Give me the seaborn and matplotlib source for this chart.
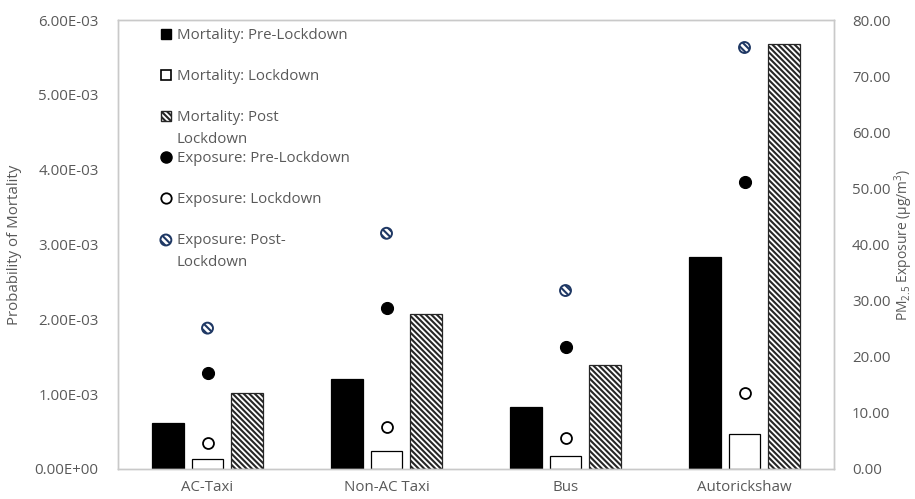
import numpy as np
import pandas as pd
import matplotlib
matplotlib.use("Agg")
import matplotlib.pyplot as plt
import seaborn as sns
from matplotlib.patches import Patch
from matplotlib.lines import Line2D
from matplotlib.ticker import FormatStrFormatter

# ---------------- data ----------------
categories = ["AC-Taxi", "Non-AC Taxi", "Bus", "Autorickshaw"]
mort_pre = [0.62e-3, 1.20e-3, 0.83e-3, 2.83e-3]
mort_lock = [0.14e-3, 0.24e-3, 0.17e-3, 0.47e-3]
mort_post = [1.01e-3, 2.07e-3, 1.39e-3, 5.68e-3]
exp_pre = [17.1, 28.6, 21.7, 51.2]
exp_lock = [4.6, 7.5, 5.6, 13.5]
exp_post = [25.1, 42.0, 31.8, 75.1]
periods = ["Pre-Lockdown", "Lockdown", "Post Lockdown"]
left_ticks = [0, 1e-3, 2e-3, 3e-3, 4e-3, 5e-3, 6e-3]
right_ticks = [0, 10, 20, 30, 40, 50, 60, 70, 80]

# ---------------- style ----------------
sns.set_theme(style="white")
plt.rcParams["font.family"] = ["Open Sans", "DejaVu Sans"]
plt.rcParams["mathtext.fontset"] = "custom"
plt.rcParams["mathtext.rm"] = "Open Sans"
plt.rcParams["mathtext.it"] = "Open Sans:italic"
plt.rcParams["hatch.linewidth"] = 1.5
TXT = "#595959"
GRID = "#C9C9C9"
FS = 10.8

fig = plt.figure(figsize=(9.15, 4.99), dpi=100)
ax = fig.add_axes([118 / 915, 30 / 499, (834 - 118) / 915, (469 - 20) / 499])

df = pd.DataFrame({
    "Vehicle": categories * 3,
    "Period": [p for p in periods for _ in categories],
    "Mortality": mort_pre + mort_lock + mort_post,
})
palette = {"Pre-Lockdown": "black", "Lockdown": "white", "Post Lockdown": "white"}
sns.barplot(data=df, x="Vehicle", y="Mortality", hue="Period", hue_order=periods,
            order=categories, palette=palette, width=0.67, gap=0.2,
            edgecolor="black", linewidth=0.9, errorbar=None, legend=False,
            saturation=1, ax=ax)
for bar in ax.containers[2]:
    bar.set_hatch("\\\\\\\\\\\\")
    bar.set_edgecolor("#262626")

ax.set_ylim(0, 6e-3)
ax.set_xlim(-0.5, 3.5)
ax.set_yticks(left_ticks)
ax.yaxis.set_major_formatter(FormatStrFormatter("%.2E"))
ax.set_xlabel("")
ax.set_ylabel("Probability of Mortality", color=TXT, fontsize=FS, labelpad=9)
ax.tick_params(axis="both", length=0, labelsize=FS, colors=TXT, pad=14)
ax.tick_params(axis="x", pad=8)
for s in ax.spines.values():
    s.set_color(GRID)
    s.set_linewidth(1.0)

# ---------------- exposure (right axis) ----------------
ax2 = ax.twinx()
pos = np.arange(len(categories))
sns.scatterplot(x=pos, y=exp_pre, color="black", s=75, edgecolor="black",
                linewidth=0.8, ax=ax2, zorder=3)
sns.scatterplot(x=pos, y=exp_lock, color="white", s=62, edgecolor="black",
                linewidth=1.3, ax=ax2, zorder=3)
post_sc = ax2.scatter(pos, exp_post, s=62, facecolor="white", edgecolor="#1F3864",
                      linewidth=1.4, hatch="\\\\\\\\\\", zorder=3)
ax2.set_ylim(0, 80)
ax2.set_yticks(right_ticks)
ax2.yaxis.set_major_formatter(FormatStrFormatter("%.2f"))
ax2.tick_params(axis="y", length=0, labelsize=FS, colors=TXT, pad=13)
ax2.set_ylabel(r"PM$_{2.5}$ Exposure (µg/m$^{3}$)", color=TXT, fontsize=10,
               labelpad=1)
for s in ax2.spines.values():
    s.set_color(GRID)
    s.set_linewidth(1.0)

# ---------------- legend ----------------
handles = [
    Patch(facecolor="black", edgecolor="black"),
    Patch(facecolor="white", edgecolor="black", linewidth=1.2),
    Patch(facecolor="white", edgecolor="#262626", hatch="\\\\\\\\\\\\"),
    Line2D([], [], marker="o", linestyle="", color="black", markersize=8),
    Line2D([], [], marker="o", linestyle="", markerfacecolor="white",
           markeredgecolor="black", markeredgewidth=1.3, markersize=7.5),
    post_sc,
]
labels = ["Mortality: Pre-Lockdown", "Mortality: Lockdown", "Mortality: Post",
          "Exposure: Pre-Lockdown", "Exposure: Lockdown", "Exposure: Post-"]
leg = ax2.legend(handles, labels, loc="upper left",
                 bbox_to_anchor=(43 / 716, 1 - 8 / 449), frameon=False,
                 fontsize=FS, handlelength=0.65, handleheight=0.65,
                 handletextpad=0.4, labelspacing=1.73, borderpad=0,
                 borderaxespad=0, scatterpoints=1)
for t in leg.get_texts():
    t.set_color(TXT)

fig.canvas.draw()
W, H = fig.get_size_inches() * fig.dpi
for idx in (2, 5):
    bb = leg.get_texts()[idx].get_window_extent()
    fig.text(bb.x0 / W, (bb.y0 - 22) / H, "Lockdown", color=TXT, fontsize=FS,
             va="bottom", ha="left")

fig.savefig("out.png", dpi=100)
